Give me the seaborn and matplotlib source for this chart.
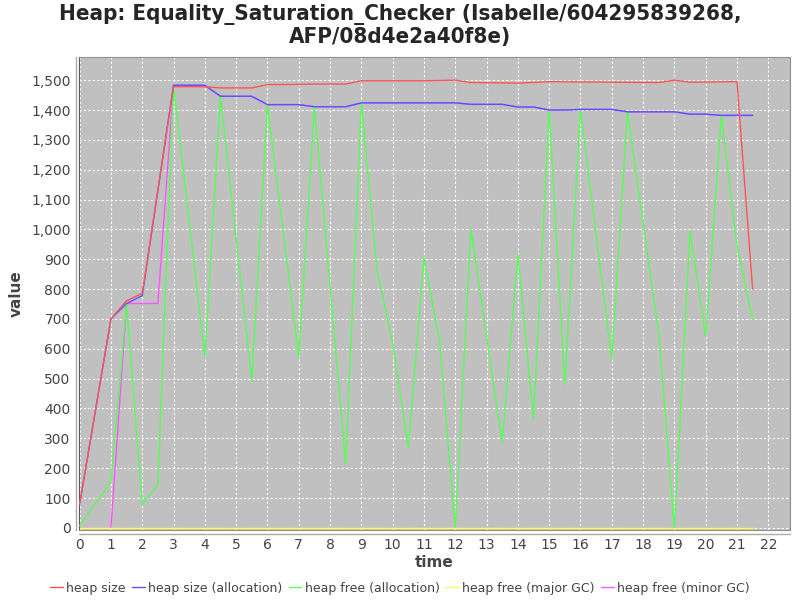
import pandas as pd
import matplotlib
matplotlib.use("Agg")
import matplotlib.pyplot as plt
import matplotlib.ticker as mticker
from matplotlib.lines import Line2D
import seaborn as sns

# series (time in units, value in MB)
size_t = [0, 1, 1.5, 2, 3, 4, 4.5, 5.5, 6, 7, 7.5, 8.5, 9, 11, 12, 12.5, 14, 15, 18.5, 19, 19.5, 21, 21.5]
size_v = [80, 700, 761, 786, 1478, 1478, 1474, 1474, 1485, 1486, 1487, 1487, 1498, 1498, 1500, 1492, 1490,
          1495, 1492, 1500, 1493, 1495, 800]

alloc_t = [0, 1, 1.5, 2, 3, 4, 4.5, 5.5, 6, 7, 7.5, 8.5, 9, 12, 12.5, 13.5, 14, 14.5, 15, 15.5, 16, 17,
           17.5, 19, 19.5, 20, 20.5, 21.5]
alloc_v = [80, 700, 752, 778, 1483, 1483, 1446, 1446, 1418, 1418, 1411, 1411, 1424, 1424, 1419, 1419, 1410,
           1410, 1400, 1400, 1402, 1402, 1394, 1394, 1386, 1386, 1382, 1382]

free_t = [0, 1, 1.5, 2, 2.5, 3, 4, 4.5, 5.5, 6, 7, 7.5, 8.5, 9, 9.5, 10, 10.5, 11, 11.5, 12, 12.5, 13.5,
          14, 14.5, 15, 15.5, 16, 17, 17.5, 18.5, 19, 19.5, 20, 20.5, 21, 21.5]
free_v = [7, 155, 752, 80, 144, 1483, 571, 1446, 495, 1418, 571, 1411, 211, 1424, 864, 619, 269, 906, 624,
          3, 1000, 286, 917, 365, 1400, 479, 1402, 565, 1394, 652, 0, 994, 641, 1382, 942, 699]

major_t = [0, 21.5]
major_v = [0, 0]

minor_t = [1, 1.5, 2.5, 3, 4, 4.5, 5.5, 6, 7, 7.5, 8.5, 9, 12, 12.5, 13.5, 14, 14.5, 15, 15.5, 16, 17,
           17.5, 19, 19.5, 20, 20.5, 21.5]
minor_v = [0, 752, 752, 1483, 1483, 1446, 1446, 1418, 1418, 1411, 1411, 1424, 1424, 1419, 1419, 1410,
           1410, 1400, 1400, 1402, 1402, 1394, 1394, 1386, 1386, 1382, 1382]

names = ["heap size", "heap size (allocation)", "heap free (allocation)",
         "heap free (major GC)", "heap free (minor GC)"]
colors = ["#ff5555", "#5555ff", "#55ff55", "#ffff55", "#ff55ff"]

frames = []
for name, t, v in zip(names, [size_t, alloc_t, free_t, major_t, minor_t],
                      [size_v, alloc_v, free_v, major_v, minor_v]):
    frames.append(pd.DataFrame({"time": t, "value": v, "series": name}))
df = pd.concat(frames, ignore_index=True)

sns.set_style("white")
fig = plt.figure(figsize=(8, 6), dpi=100)
ax = fig.add_axes([0.09875, 0.1167, 0.889, 0.788])
ax.set_facecolor("#c0c0c0")

# first series on top, like the original renderer
for i, (name, col) in enumerate(zip(names, colors)):
    sns.lineplot(data=df[df["series"] == name], x="time", y="value", color=col,
                 linewidth=1.0, sort=False, ax=ax, zorder=10 - i, legend=False)

ax.set_xlim(-0.02, 22.7)
ax.set_ylim(-7, 1577)
ax.xaxis.set_major_locator(mticker.MultipleLocator(1))
ax.yaxis.set_major_locator(mticker.MultipleLocator(100))
ax.yaxis.set_major_formatter(mticker.FuncFormatter(lambda v, p: f"{int(v):,}"))
ax.grid(True, color="white", linestyle=(0, (2, 2)), linewidth=0.8)
ax.set_axisbelow(True)
for s in ax.spines.values():
    s.set_color("#909090")
    s.set_linewidth(0.8)
ax.spines["left"].set_color("#555555")

# detached axis lines below and left of the plot area
ax.plot([0, 1], [-0.008, -0.008], transform=ax.transAxes, color="#aaaaaa",
        linewidth=1, clip_on=False)
ax.plot([-0.004, -0.004], [0, 1], transform=ax.transAxes, color="#aaaaaa",
        linewidth=1, clip_on=False)

ax.tick_params(axis="both", colors="#999999", labelcolor="#444444", labelsize=10,
               length=3, direction="out", pad=3)

ax.set_xlabel("time", fontsize=11, fontweight="bold", color="#444444", labelpad=2)
ax.set_ylabel("value", fontsize=11, fontweight="bold", color="#444444", labelpad=5)

fig.suptitle("Heap: Equality_Saturation_Checker (Isabelle/604295839268,\nAFP/08d4e2a40f8e)",
             fontsize=16, fontweight="bold", fontstretch="condensed", y=0.993, linespacing=1.12)

handles = [Line2D([0], [0], color=c, linewidth=1) for c in colors]
fig.legend(handles, names, loc="lower center", bbox_to_anchor=(0.5, -0.01), ncol=5, frameon=False,
           fontsize=9, handlelength=1.0, handletextpad=0.3, columnspacing=0.5,
           labelcolor="#444444")

fig.savefig("out.png", dpi=100)
